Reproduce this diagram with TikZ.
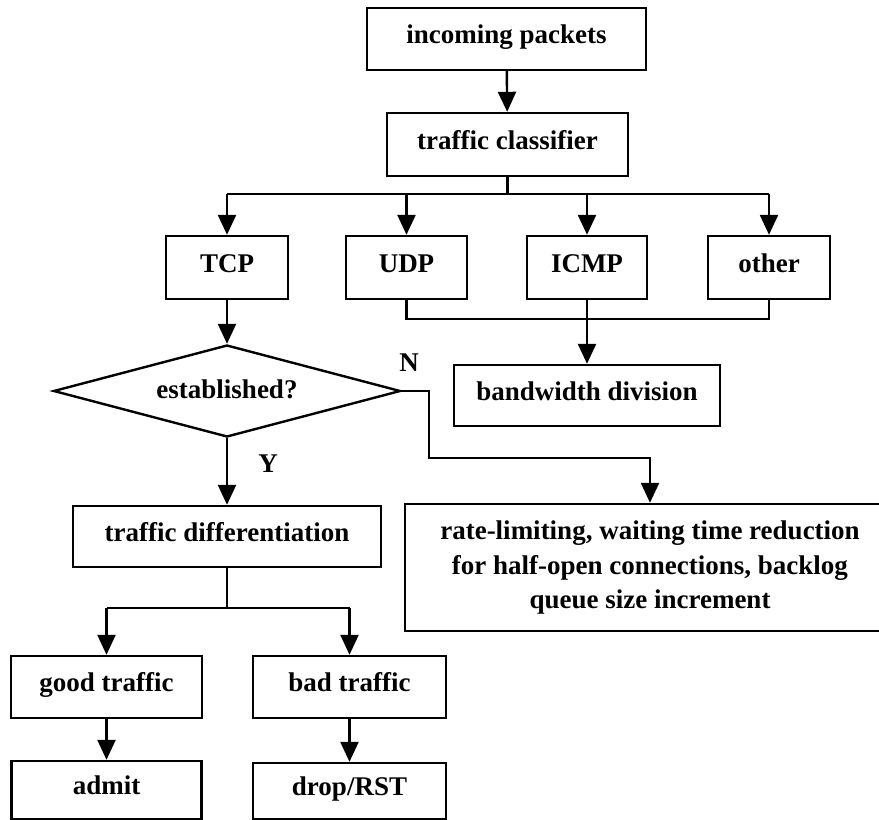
\documentclass[tikz,border=0pt]{standalone}
\usepackage{fontspec}
\setmainfont{Liberation Serif}
\usetikzlibrary{arrows.meta,shapes.geometric}
\begin{document}
\begin{tikzpicture}[x=1pt,y=-1pt,
  every node/.style={font=\fontsize{27}{34.5}\selectfont\bfseries},
  frame/.style={draw, line width=2.4pt, inner sep=0pt},
  box/.style={frame, text height=16pt, text depth=7pt},
  link/.style={line width=2.4pt},
  arr/.style={link, -{Triangle[length=20pt,width=18pt]}},
  tag/.style={inner sep=0pt}]
\useasboundingbox (0,0) rectangle (879,820);
\fill[white] (0,0) rectangle (879,820);

% classification stage
\node[box, minimum width=279, minimum height=62] (inc) at (506.5,39) {incoming packets};
\node[box, minimum width=241, minimum height=63] (cls) at (507.5,144.5) {traffic classifier};
\node[box, minimum width=122, minimum height=63] (tcp) at (227,267.5) {TCP};
\node[box, minimum width=121, minimum height=63] (udp) at (406.5,267.5) {UDP};
\node[box, minimum width=120, minimum height=63] (icmp) at (587,267.5) {ICMP};
\node[box, minimum width=122, minimum height=63] (oth) at (769,267.5) {other};
\node[box, minimum width=266, minimum height=61] (bw) at (587,395.5) {bandwidth division};

% TCP handling
\node[frame, shape=diamond, aspect=3.77, minimum width=347, minimum height=92,
      text height=18pt, text depth=4pt] (dec) at (227,391) {established?};
\node[box, minimum width=308, minimum height=61] (diff) at (227,536.5) {traffic differentiation};
\node[frame, align=center, minimum width=490, minimum height=127] (rate) at (650,567.5)
  {rate-limiting, waiting time reduction\\for half-open connections, backlog\\queue size increment};
\node[box, minimum width=191, minimum height=62] (good) at (106.5,687) {good traffic};
\node[box, minimum width=193, minimum height=62] (bad) at (349.5,687) {bad traffic};
\node[box, minimum width=190, minimum height=58] (admit) at (106.5,790) {admit};
\node[box, minimum width=193, minimum height=56] (drop) at (349.5,791) {drop/RST};

% branch labels
\node[tag] (nlab) at (409,363) {N};
\node[tag] (ylab) at (268,464) {Y};

% helper rows for the bus lines
\coordinate (bus) at (0,194);
\coordinate (mrg) at (0,319);
\coordinate (nrow) at (0,458);
\coordinate (split) at (0,608);

% connectors
\draw[arr] (inc) -- (cls);
\draw[link] (cls.south) -- (cls.south |- bus);
\draw[link] (tcp.north |- bus) -- (oth.north |- bus);
\draw[arr] (tcp.north |- bus) -- (tcp.north);
\draw[arr] (udp.north |- bus) -- (udp.north);
\draw[arr] (icmp.north |- bus) -- (icmp.north);
\draw[arr] (oth.north |- bus) -- (oth.north);

\draw[link] (udp.south) -- (udp.south |- mrg) -- (oth.south |- mrg) -- (oth.south);
\draw[arr] (icmp.south) -- (bw.north);

\draw[arr] (tcp.south) -- (dec.north);
\draw[arr] (dec.south) -- (diff.north);
\draw[arr] (dec.east) -- ++(27,0) |- (rate.north |- nrow) -- (rate.north);

\draw[link] (diff.south) -- (diff.south |- split);
\draw[link] (good.north |- split) -- (bad.north |- split);
\draw[arr] (good.north |- split) -- (good.north);
\draw[arr] (bad.north |- split) -- (bad.north);
\draw[arr] (good) -- (admit);
\draw[arr] (bad) -- (drop);
\end{tikzpicture}
\end{document}
